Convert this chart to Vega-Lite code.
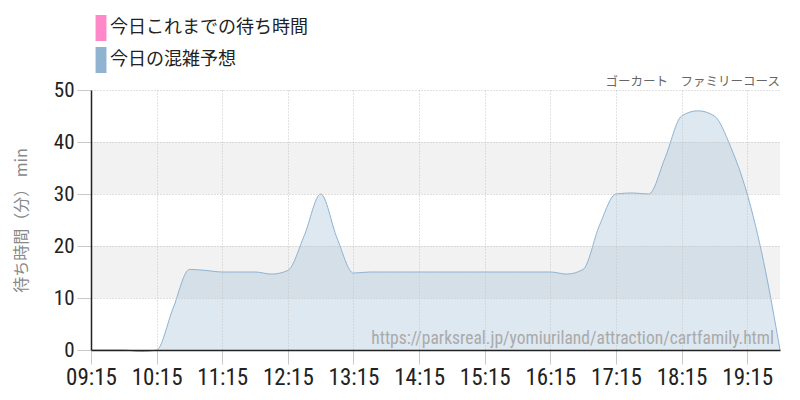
{
  "$schema": "https://vega.github.io/schema/vega-lite/v6.json",
  "width": 689,
  "height": 260,
  "autosize": {"type": "none"},
  "padding": {"left": 91, "top": 90, "right": 20, "bottom": 50},
  "background": "white",
  "config": {"view": {"stroke": null}},
  "title": {"text": "ゴーカート　ファミリーコース", "anchor": "end", "font": "Noto Sans CJK JP", "fontSize": 12.5, "fontWeight": "normal", "color": "#666", "offset": 5, "dy": 78, "dx": -2},
  "datasets": {
    "wait": [
      {"t": "2024-01-01T09:15", "v": 0, "s": "今日の混雑予想"},
      {"t": "2024-01-01T09:30", "v": 0, "s": "今日の混雑予想"},
      {"t": "2024-01-01T09:45", "v": 0, "s": "今日の混雑予想"},
      {"t": "2024-01-01T10:00", "v": -0.3, "s": "今日の混雑予想"},
      {"t": "2024-01-01T10:15", "v": 0, "s": "今日の混雑予想"},
      {"t": "2024-01-01T10:30", "v": 8, "s": "今日の混雑予想"},
      {"t": "2024-01-01T10:45", "v": 15.5, "s": "今日の混雑予想"},
      {"t": "2024-01-01T11:00", "v": 15.3, "s": "今日の混雑予想"},
      {"t": "2024-01-01T11:15", "v": 15, "s": "今日の混雑予想"},
      {"t": "2024-01-01T11:30", "v": 15, "s": "今日の混雑予想"},
      {"t": "2024-01-01T11:45", "v": 15, "s": "今日の混雑予想"},
      {"t": "2024-01-01T12:00", "v": 14.6, "s": "今日の混雑予想"},
      {"t": "2024-01-01T12:15", "v": 15.3, "s": "今日の混雑予想"},
      {"t": "2024-01-01T12:30", "v": 22, "s": "今日の混雑予想"},
      {"t": "2024-01-01T12:45", "v": 30, "s": "今日の混雑予想"},
      {"t": "2024-01-01T13:00", "v": 21.5, "s": "今日の混雑予想"},
      {"t": "2024-01-01T13:15", "v": 14.8, "s": "今日の混雑予想"},
      {"t": "2024-01-01T13:30", "v": 15, "s": "今日の混雑予想"},
      {"t": "2024-01-01T13:45", "v": 15, "s": "今日の混雑予想"},
      {"t": "2024-01-01T14:00", "v": 15, "s": "今日の混雑予想"},
      {"t": "2024-01-01T14:15", "v": 15, "s": "今日の混雑予想"},
      {"t": "2024-01-01T14:30", "v": 15, "s": "今日の混雑予想"},
      {"t": "2024-01-01T14:45", "v": 15, "s": "今日の混雑予想"},
      {"t": "2024-01-01T15:00", "v": 15, "s": "今日の混雑予想"},
      {"t": "2024-01-01T15:15", "v": 15, "s": "今日の混雑予想"},
      {"t": "2024-01-01T15:30", "v": 15, "s": "今日の混雑予想"},
      {"t": "2024-01-01T15:45", "v": 15, "s": "今日の混雑予想"},
      {"t": "2024-01-01T16:00", "v": 15, "s": "今日の混雑予想"},
      {"t": "2024-01-01T16:15", "v": 15, "s": "今日の混雑予想"},
      {"t": "2024-01-01T16:30", "v": 14.6, "s": "今日の混雑予想"},
      {"t": "2024-01-01T16:45", "v": 15.5, "s": "今日の混雑予想"},
      {"t": "2024-01-01T17:00", "v": 24, "s": "今日の混雑予想"},
      {"t": "2024-01-01T17:15", "v": 30, "s": "今日の混雑予想"},
      {"t": "2024-01-01T17:30", "v": 30.2, "s": "今日の混雑予想"},
      {"t": "2024-01-01T17:45", "v": 30, "s": "今日の混雑予想"},
      {"t": "2024-01-01T18:00", "v": 37, "s": "今日の混雑予想"},
      {"t": "2024-01-01T18:15", "v": 45, "s": "今日の混雑予想"},
      {"t": "2024-01-01T18:30", "v": 46, "s": "今日の混雑予想"},
      {"t": "2024-01-01T18:45", "v": 45, "s": "今日の混雑予想"},
      {"t": "2024-01-01T19:00", "v": 39, "s": "今日の混雑予想"},
      {"t": "2024-01-01T19:15", "v": 30, "s": "今日の混雑予想"},
      {"t": "2024-01-01T19:30", "v": 17, "s": "今日の混雑予想"},
      {"t": "2024-01-01T19:45", "v": 0, "s": "今日の混雑予想"}
    ],
    "bands": [{"lo": 10, "hi": 20}, {"lo": 30, "hi": 40}],
    "note": [{"t": "2024-01-01T19:45", "v": 0, "label": "https://parksreal.jp/yomiuriland/attraction/cartfamily.html"}]
  },
  "layer": [
    {
      "data": {"name": "bands"},
      "mark": {"type": "rect", "color": "#f2f2f2"},
      "encoding": {
        "y": {"field": "lo", "type": "quantitative", "scale": {"domain": [0, 50]}},
        "y2": {"field": "hi"}
      }
    },
    {
      "data": {"name": "wait"},
      "mark": {"type": "area", "interpolate": "monotone", "fillOpacity": 0.3, "line": {"strokeWidth": 1}},
      "encoding": {
        "x": {
          "field": "t", "type": "temporal",
          "scale": {"domain": [
            {"year": 2024, "month": 1, "date": 1, "hours": 9, "minutes": 15},
            {"year": 2024, "month": 1, "date": 1, "hours": 19, "minutes": 45}
          ]},
          "axis": {
            "title": null,
            "zindex": 1,
            "values": [
              {"year": 2024, "month": 1, "date": 1, "hours": 9, "minutes": 15},
              {"year": 2024, "month": 1, "date": 1, "hours": 9, "minutes": 45},
              {"year": 2024, "month": 1, "date": 1, "hours": 10, "minutes": 15},
              {"year": 2024, "month": 1, "date": 1, "hours": 10, "minutes": 45},
              {"year": 2024, "month": 1, "date": 1, "hours": 11, "minutes": 15},
              {"year": 2024, "month": 1, "date": 1, "hours": 11, "minutes": 45},
              {"year": 2024, "month": 1, "date": 1, "hours": 12, "minutes": 15},
              {"year": 2024, "month": 1, "date": 1, "hours": 12, "minutes": 45},
              {"year": 2024, "month": 1, "date": 1, "hours": 13, "minutes": 15},
              {"year": 2024, "month": 1, "date": 1, "hours": 13, "minutes": 45},
              {"year": 2024, "month": 1, "date": 1, "hours": 14, "minutes": 15},
              {"year": 2024, "month": 1, "date": 1, "hours": 14, "minutes": 45},
              {"year": 2024, "month": 1, "date": 1, "hours": 15, "minutes": 15},
              {"year": 2024, "month": 1, "date": 1, "hours": 15, "minutes": 45},
              {"year": 2024, "month": 1, "date": 1, "hours": 16, "minutes": 15},
              {"year": 2024, "month": 1, "date": 1, "hours": 16, "minutes": 45},
              {"year": 2024, "month": 1, "date": 1, "hours": 17, "minutes": 15},
              {"year": 2024, "month": 1, "date": 1, "hours": 17, "minutes": 45},
              {"year": 2024, "month": 1, "date": 1, "hours": 18, "minutes": 15},
              {"year": 2024, "month": 1, "date": 1, "hours": 18, "minutes": 45},
              {"year": 2024, "month": 1, "date": 1, "hours": 19, "minutes": 15}
            ],
            "format": "%H:%M",
            "labelExpr": "minutes(datum.value) == 45 ? '' : datum.label",
            "labelFont": "Roboto Condensed, Liberation Sans Narrow, DejaVu Sans Condensed",
            "labelFontSize": 23,
            "labelColor": "#222",
            "labelPadding": 2,
            "labelFlush": false,
            "labelOverlap": false,
            "tickSize": 14,
            "tickColor": "#c8c8c8",
            "tickOpacity": {"condition": {"test": "minutes(datum.value) == 45", "value": 0}, "value": 1},
            "domainColor": "#222",
            "domainWidth": 1.5,
            "gridColor": "#c4c4c4",
            "gridDash": {"condition": {"test": "minutes(datum.value) == 45", "value": [5, 4]}, "value": [1, 2]}
          }
        },
        "y": {
          "field": "v", "type": "quantitative",
          "scale": {"domain": [0, 50]},
          "axis": {
            "title": "待ち時間（分） min",
            "titleFont": "Noto Sans CJK JP",
            "titleFontSize": 16,
            "titleFontWeight": "normal",
            "titleColor": "#888",
            "titlePadding": 24,
            "zindex": 1,
            "values": [0, 10, 20, 30, 40, 50],
            "labelFont": "Roboto Condensed, Liberation Sans Narrow, DejaVu Sans Condensed",
            "labelFontSize": 21,
            "labelColor": "#222",
            "labelPadding": 3,
            "tickSize": 14,
            "tickColor": "#c8c8c8",
            "domainColor": "#222",
            "domainWidth": 1.5,
            "gridColor": "#c0c0c0",
            "gridDash": [1, 2]
          }
        },
        "color": {
          "field": "s", "type": "nominal",
          "scale": {"domain": ["今日これまでの待ち時間", "今日の混雑予想"], "range": ["#ff88c8", "#8fb3d1"]},
          "legend": {
            "orient": "none",
            "legendX": -3,
            "legendY": -75,
            "title": null,
            "symbolType": "M-0.42,-1H0.42V1H-0.42Z",
            "symbolSize": 676,
            "symbolStrokeWidth": 0,
            "symbolOpacity": 1,
            "labelFont": "Noto Sans CJK JP",
            "labelFontSize": 18,
            "labelColor": "#222",
            "labelOffset": -4,
            "labelLimit": 400,
            "rowPadding": 6
          }
        }
      }
    },
    {
      "data": {"name": "note"},
      "mark": {"type": "text", "align": "right", "baseline": "bottom", "dx": -6, "dy": -2, "font": "Roboto Condensed, Liberation Sans Narrow, DejaVu Sans Condensed", "fontSize": 17.5, "color": "#aaa"},
      "encoding": {
        "x": {"field": "t", "type": "temporal"},
        "y": {"field": "v", "type": "quantitative"},
        "text": {"field": "label"}
      }
    }
  ]
}
